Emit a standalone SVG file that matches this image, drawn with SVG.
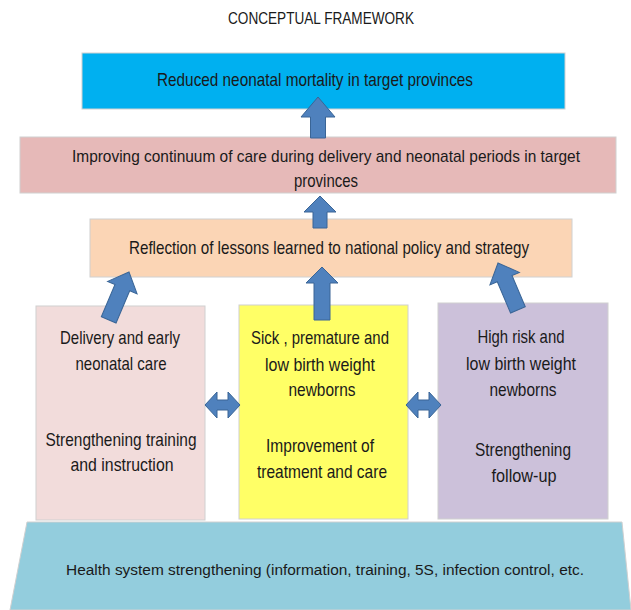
<svg xmlns="http://www.w3.org/2000/svg" width="631" height="610" viewBox="0 0 631 610">
<style>
  text { font-family: "Liberation Sans Narrow", "Liberation Sans", "DejaVu Sans Condensed", sans-serif; fill: #1a1a1a; text-anchor: middle; }
  .t { font-size: 17px; }
  .m { font-size: 19px; }
  .l { font-size: 17px; }
  .b { font-size: 15.5px; }
  .box { stroke: #d0d0d0; stroke-width: 1; }
  .arrow { fill: #4F81BD; stroke: #3A6596; stroke-width: 1; }
</style>
<rect width="631" height="610" fill="#ffffff"/>
<text class="t" x="321" y="24" textLength="186" lengthAdjust="spacingAndGlyphs">CONCEPTUAL FRAMEWORK</text>

<g id="goal">
  <rect class="box" x="82" y="53" width="483" height="56" fill="#00B0F0"/>
  <text class="m" x="315" y="86" textLength="316" lengthAdjust="spacingAndGlyphs">Reduced neonatal mortality in target provinces</text>
</g>
<g id="continuum">
  <rect class="box" x="20" y="137" width="596" height="56" fill="#E6B9B8"/>
  <text class="l" x="326" y="162" textLength="508" lengthAdjust="spacingAndGlyphs">Improving continuum of care during delivery and neonatal periods in target</text>
  <text class="m" x="326" y="187" textLength="64" lengthAdjust="spacingAndGlyphs">provinces</text>
</g>
<g id="reflection">
  <rect class="box" x="90" y="219" width="482" height="58" fill="#FBD5B5"/>
  <text class="m" x="329" y="254" textLength="400" lengthAdjust="spacingAndGlyphs">Reflection of lessons learned to national policy and strategy</text>
</g>
<g id="delivery">
  <rect class="box" x="36" y="306" width="169" height="214" fill="#F2DCDB"/>
  <text class="m" x="120" y="344" textLength="120" lengthAdjust="spacingAndGlyphs">Delivery and early</text>
  <text class="m" x="121" y="370" textLength="91" lengthAdjust="spacingAndGlyphs">neonatal care</text>
  <text class="m" x="121" y="446" textLength="151" lengthAdjust="spacingAndGlyphs">Strengthening training</text>
  <text class="m" x="122" y="471" textLength="103" lengthAdjust="spacingAndGlyphs">and instruction</text>
</g>
<g id="sick">
  <rect class="box" x="239" y="305" width="169" height="214" fill="#FFFF66"/>
  <text class="m" x="320" y="344" textLength="138" lengthAdjust="spacingAndGlyphs">Sick , premature and</text>
  <text class="m" x="320" y="371" textLength="110" lengthAdjust="spacingAndGlyphs">low birth weight</text>
  <text class="m" x="322" y="396" textLength="67" lengthAdjust="spacingAndGlyphs">newborns</text>
  <text class="m" x="320" y="452" textLength="108" lengthAdjust="spacingAndGlyphs">Improvement of</text>
  <text class="m" x="322" y="478" textLength="130" lengthAdjust="spacingAndGlyphs">treatment and care</text>
</g>
<g id="highrisk">
  <rect class="box" x="438" y="303" width="170" height="216" fill="#CCC1DA"/>
  <text class="m" x="521" y="343" textLength="87" lengthAdjust="spacingAndGlyphs">High risk and</text>
  <text class="m" x="521" y="370" textLength="110" lengthAdjust="spacingAndGlyphs">low birth weight</text>
  <text class="m" x="523" y="396" textLength="67" lengthAdjust="spacingAndGlyphs">newborns</text>
  <text class="m" x="523" y="456" textLength="96" lengthAdjust="spacingAndGlyphs">Strengthening</text>
  <text class="m" x="524" y="482" textLength="65" lengthAdjust="spacingAndGlyphs">follow-up</text>
</g>
<g id="health">
  <polygon points="27,522 622,522 631,610 10,610" fill="#93CDDD" stroke="#d0d0d0" stroke-width="1"/>
  <text class="b" x="325" y="575" textLength="518" lengthAdjust="spacingAndGlyphs">Health system strengthening (information, training, 5S, infection control, etc.</text>
</g>

<g id="connectors">
  <polygon class="arrow" points="318,97 335,117 325.5,117 325.5,138 310.5,138 310.5,117 301,117"/>
  <polygon class="arrow" points="320,196 336,212 327,212 327,228 313,228 313,212 304,212"/>
  <polygon class="arrow" points="322,267 338,283 330,283 330,320 314,320 314,283 306,283"/>
  <polygon class="arrow" transform="translate(129,272) rotate(23)" points="0,0 16,17 8,17 8,52 -8,52 -8,17 -16,17"/>
  <polygon class="arrow" transform="translate(498,263) rotate(-23)" points="0,0 16,17 8,17 8,51 -8,51 -8,17 -16,17"/>
  <polygon class="arrow" points="205,405 217,392 217,400 228,400 228,392 240,405 228,418 228,410 217,410 217,418"/>
  <polygon class="arrow" points="406,405 418,392 418,400 429,400 429,392 441,405 429,418 429,410 418,410 418,418"/>
</g>
</svg>
